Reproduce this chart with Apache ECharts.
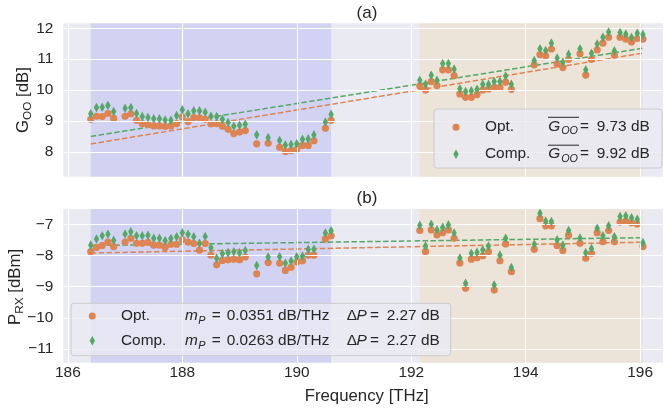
<!DOCTYPE html>
<html><head><meta charset="utf-8">
<script src="https://cdn.jsdelivr.net/npm/echarts@6/dist/echarts.min.js"></script>
<style>html,body{margin:0;padding:0;background:#fff}#c{width:664px;height:414px}</style>
</head><body><div id="c"></div>
<script>
// ---------- data ----------
const freqs = [
  186.4,186.5,186.6,186.7,186.8,
  187.0,187.1,187.2,187.3,187.4,187.5,187.6,187.7,187.8,187.9,188.0,188.1,188.2,188.3,188.4,188.5,188.6,188.7,188.8,188.9,189.0,189.1,
  189.3,189.5,
  189.7,189.8,189.9,190.0,190.1,190.2,190.3,
  190.5,190.6,
  192.15,192.25,192.35,192.45,192.55,192.65,192.75,192.85,192.95,193.05,193.15,193.25,193.35,193.45,193.55,193.65,193.75,
  194.15,194.25,194.35,194.45,194.55,194.65,194.75,
  194.95,195.05,195.15,195.25,195.35,195.45,195.55,195.65,195.75,195.85,195.95,196.05
];
const gainOpt = [
  9.06,9.16,9.15,9.25,9.09,
  9.16,9.24,9.03,8.92,8.89,8.85,8.85,8.83,8.85,8.92,9.14,8.99,9.12,9.11,9.06,8.91,8.92,8.84,8.74,8.60,8.65,8.70,
  8.27,8.29,
  8.16,8.02,8.05,8.09,8.22,8.22,8.37,
  8.77,9.03,
  10.14,10.01,10.28,10.15,10.66,10.66,10.47,9.88,9.77,9.77,9.86,10.01,10.04,10.09,10.09,10.26,10.03,
  10.82,11.15,11.11,11.33,10.85,10.73,11.00,
  11.18,10.49,11.00,11.30,11.52,11.71,11.14,11.71,11.65,11.56,11.67,11.65
];
const gainComp = [
  9.24,9.44,9.45,9.51,9.31,
  9.42,9.44,9.25,9.15,9.12,9.08,9.08,9.04,9.03,9.18,9.37,9.24,9.34,9.34,9.29,9.16,9.15,9.06,8.96,8.84,8.87,8.90,
  8.56,8.47,
  8.38,8.23,8.25,8.27,8.42,8.43,8.56,
  8.97,9.22,
  10.32,10.19,10.48,10.32,10.86,10.86,10.68,10.05,9.96,9.98,10.03,10.19,10.19,10.28,10.28,10.46,10.19,
  10.96,11.34,11.28,11.52,11.04,10.90,11.16,
  11.34,10.66,11.19,11.49,11.71,11.88,11.27,11.86,11.81,11.70,11.84,11.80
];
const powOpt = [
  -7.88,-7.74,-7.68,-7.57,-7.72,
  -7.57,-7.45,-7.61,-7.61,-7.58,-7.67,-7.67,-7.74,-7.64,-7.64,-7.49,-7.57,-7.62,-7.83,-7.62,-7.99,-8.30,-8.16,-8.14,-8.12,-8.14,-8.05,
  -8.59,-8.23,
  -8.25,-8.48,-8.38,-8.21,-8.17,-7.99,-7.99,
  -7.47,-7.37,
  -7.20,-7.87,-7.18,-7.34,-7.27,-7.18,-7.45,-8.24,-9.05,-8.12,-8.07,-8.01,-7.88,-9.11,-8.17,-7.63,-8.52,
  -7.80,-6.82,-7.05,-7.05,-7.68,-7.84,-7.35,
  -7.61,-8.09,-7.93,-7.27,-7.56,-7.20,-7.56,-6.93,-6.90,-6.95,-6.99,-7.71
];
const powComp = [
  -7.67,-7.47,-7.37,-7.32,-7.51,
  -7.31,-7.24,-7.37,-7.37,-7.35,-7.45,-7.45,-7.53,-7.46,-7.40,-7.27,-7.32,-7.40,-7.61,-7.39,-7.75,-8.09,-7.94,-7.91,-7.88,-7.91,-7.84,
  -8.32,-8.05,
  -8.04,-8.25,-8.18,-8.04,-8.02,-7.80,-7.80,
  -7.28,-7.21,
  -7.03,-7.70,-7.00,-7.18,-7.10,-7.02,-7.28,-8.08,-8.89,-7.93,-7.90,-7.82,-7.70,-8.95,-7.99,-7.45,-8.39,
  -7.64,-6.65,-6.90,-6.91,-7.50,-7.67,-7.20,
  -7.44,-7.91,-7.78,-7.13,-7.37,-7.05,-7.40,-6.75,-6.73,-6.79,-6.84,-7.59
];
const xTicks = [186,188,190,192,194,196];
const gainTicks = [8,9,10,11,12];
const powTicks = [-11,-10,-9,-8,-7];
const bandC = [186.4, 190.6];
const bandL = [192.15, 196.05];
const seriesNames = ['Opt.', 'Comp.'];
const gainMeans = ['9.73', '9.92'];
const slopes = ['0.0351', '0.0263'];
const deltaP = ['2.27', '2.27'];

// ---------- styling ----------
const FONT = '"Liberation Sans", Arial, sans-serif';
const TXT = '#262626';
const ORANGE = '#DD8452';
const GREEN = '#55A868';

function fit(xs, ys) {
  const n = xs.length;
  let sx = 0, sy = 0, sxx = 0, sxy = 0;
  for (let i = 0; i < n; i++) { sx += xs[i]; sy += ys[i]; sxx += xs[i]*xs[i]; sxy += xs[i]*ys[i]; }
  const b = (n*sxy - sx*sy) / (n*sxx - sx*sx);
  const a = (sy - b*sx) / n;
  const x0 = Math.min(...xs), x1 = Math.max(...xs);
  return [[x0, a + b*x0], [x1, a + b*x1]];
}
const pairs = (ys) => freqs.map((f, i) => [f, ys[i]]);

function gridSeries(gi, yt) {
  return {
    type: 'line', xAxisIndex: gi, yAxisIndex: gi, data: [], z: 1, silent: true,
    markLine: {
      silent: true, symbol: ['none', 'none'], label: { show: false }, animation: false,
      lineStyle: { color: '#ffffff', width: 1.1, type: 'solid', opacity: 1 },
      emphasis: { disabled: true },
      data: xTicks.map(v => ({ xAxis: v })).concat(yt.map(v => ({ yAxis: v })))
    }
  };
}
function bandSeries(gi) {
  return {
    type: 'line', xAxisIndex: gi, yAxisIndex: gi, data: [], z: 2, silent: true,
    markArea: {
      silent: true, animation: false, emphasis: { disabled: true },
      data: [
        [{ xAxis: bandC[0], itemStyle: { color: 'rgba(0,0,255,0.1)' } }, { xAxis: bandC[1] }],
        [{ xAxis: bandL[0], itemStyle: { color: 'rgba(255,165,0,0.1)' } }, { xAxis: bandL[1] }]
      ]
    }
  };
}
function trend(gi, ys, color) {
  return {
    type: 'line', xAxisIndex: gi, yAxisIndex: gi, data: fit(freqs, ys), symbol: 'none', z: 3, silent: true,
    lineStyle: { color: color, width: 1.5, type: [5.5, 2.4] }
  };
}
function scat(gi, name, ys, color, symbol, size, z) {
  return {
    type: 'scatter', name: name, xAxisIndex: gi, yAxisIndex: gi, data: pairs(ys),
    symbol: symbol, symbolSize: size, itemStyle: { color: color, opacity: 1 }, z: z, silent: true
  };
}

function T(text, x, y, size, extra) {
  return {
    type: 'text', silent: true, z: 100,
    style: Object.assign({
      text: text, x: x, y: y, fontSize: size, fontFamily: FONT, fill: TXT,
      textAlign: 'left', align: 'left', textVerticalAlign: 'middle', verticalAlign: 'middle'
    }, extra || {})
  };
}
const IT = { fontStyle: 'italic' };
const C = { textAlign: 'center', align: 'center' };

function legendMarkers(x, y1, y2) {
  return [
    { type: 'circle', silent: true, z: 100, shape: { cx: x, cy: y1, r: 3.5 }, style: { fill: ORANGE } },
    { type: 'polygon', silent: true, z: 100, shape: { points: [[x, y2 - 4.8], [x + 2.7, y2], [x, y2 + 4.8], [x - 2.7, y2]] }, style: { fill: GREEN } }
  ];
}

const LS = 15.4, SS = 10.8;
const graphics = [
  // titles
  T('(a)', 367, 13, 17, C),
  T('(b)', 367, 198.7, 17, C),
  T('Frequency [THz]', 366.7, 396, 16.8, C),
  // y label top
  { type: 'group', x: 23, y: 100, rotation: Math.PI / 2, silent: true, children: [
    T('G', -33, 0, 16.8), T('OO', -19.9, 4.5, 11.8), T(' [dB]', -1.6, 0, 16.8)
  ]},
  { type: 'group', x: 15, y: 286.5, rotation: Math.PI / 2, silent: true, children: [
    T('P', -38.5, 0, 16.8), T('RX', -27.3, 4.5, 11.8), T(' [dBm]', -10.9, 0, 16.8)
  ]},
  // legend top
  { type: 'rect', silent: true, z: 99, shape: { x: 434, y: 109, width: 228, height: 59, r: 3 },
    style: { fill: 'rgba(234,234,242,0.8)', stroke: '#CCCCCC', lineWidth: 1 } },
  ...legendMarkers(456, 127.3, 154.3),
  // legend bottom
  { type: 'rect', silent: true, z: 99, shape: { x: 71, y: 303.3, width: 379.7, height: 52.4, r: 3 },
    style: { fill: 'rgba(234,234,242,0.8)', stroke: '#CCCCCC', lineWidth: 1 } },
  ...legendMarkers(92.3, 316, 340.7)
];
[126.3, 154.2].forEach((y, i) => {
  graphics.push(T(seriesNames[i], 485, y, LS));
  graphics.push(T('G', 548.3, y, LS, IT));
  graphics.push(T('OO', 561.2, y + 5, SS, IT));
  graphics.push(T('=', 580, y, LS));
  graphics.push(T(gainMeans[i] + ' dB', 596.7, y, LS));
  graphics.push({ type: 'line', silent: true, z: 100, shape: { x1: 548, y1: y - 9, x2: 579, y2: y - 9 }, style: { stroke: TXT, lineWidth: 1 } });
});
[315.8, 340.5].forEach((y, i) => {
  graphics.push(T(seriesNames[i], 121, y, LS));
  graphics.push(T('m', 185, y, LS, IT));
  graphics.push(T('P', 198.3, y + 5, SS, IT));
  graphics.push(T('=', 211.7, y, LS));
  graphics.push(T(slopes[i] + ' dB/THz', 226.7, y, LS));
  graphics.push(T('\u0394', 346.7, y, LS));
  graphics.push(T('P', 356.5, y, LS, IT));
  graphics.push(T('=', 370, y, LS));
  graphics.push(T(deltaP[i] + ' dB', 386.7, y, LS));
});

const axisLabelBase = { color: TXT, fontSize: 15.4, fontFamily: FONT };
const hidden = { axisLine: { show: false }, axisTick: { show: false }, splitLine: { show: false } };

const option = {
  animation: false,
  backgroundColor: '#ffffff',
  grid: [
    { left: 63.3, right: 1, top: 23.3, height: 153.4, backgroundColor: '#EAEAF2', show: true, borderWidth: 0 },
    { left: 63.3, right: 1, top: 209, height: 153.7, backgroundColor: '#EAEAF2', show: true, borderWidth: 0 }
  ],
  xAxis: [
    Object.assign({ gridIndex: 0, type: 'value', min: 185.92, max: 196.4, axisLabel: { show: false } }, hidden),
    Object.assign({ gridIndex: 1, type: 'value', min: 185.92, max: 196.4,
      axisLabel: Object.assign({ show: true, customValues: xTicks, margin: 3 }, axisLabelBase) }, hidden)
  ],
  yAxis: [
    Object.assign({ gridIndex: 0, type: 'value', min: 7.21, max: 12.16,
      axisLabel: Object.assign({ customValues: gainTicks, margin: 10 }, axisLabelBase) }, hidden),
    Object.assign({ gridIndex: 1, type: 'value', min: -11.44, max: -6.51,
      axisLabel: Object.assign({ customValues: powTicks, margin: 10,
        formatter: v => String(v).replace('-', '\u2212') }, axisLabelBase) }, hidden)
  ],
  series: [
    gridSeries(0, gainTicks), gridSeries(1, powTicks),
    bandSeries(0), bandSeries(1),
    trend(0, gainOpt, ORANGE), trend(0, gainComp, GREEN),
    trend(1, powOpt, ORANGE), trend(1, powComp, GREEN),
    scat(0, seriesNames[0], gainOpt, ORANGE, 'circle', 7.2, 4),
    scat(0, seriesNames[1], gainComp, GREEN, 'diamond', [5.4, 9.6], 5),
    scat(1, seriesNames[0], powOpt, ORANGE, 'circle', 7.2, 4),
    scat(1, seriesNames[1], powComp, GREEN, 'diamond', [5.4, 9.6], 5)
  ],
  graphic: graphics
};
const chart = echarts.init(document.getElementById('c'), null, { renderer: 'canvas' });
chart.setOption(option);
</script>
</body></html>
